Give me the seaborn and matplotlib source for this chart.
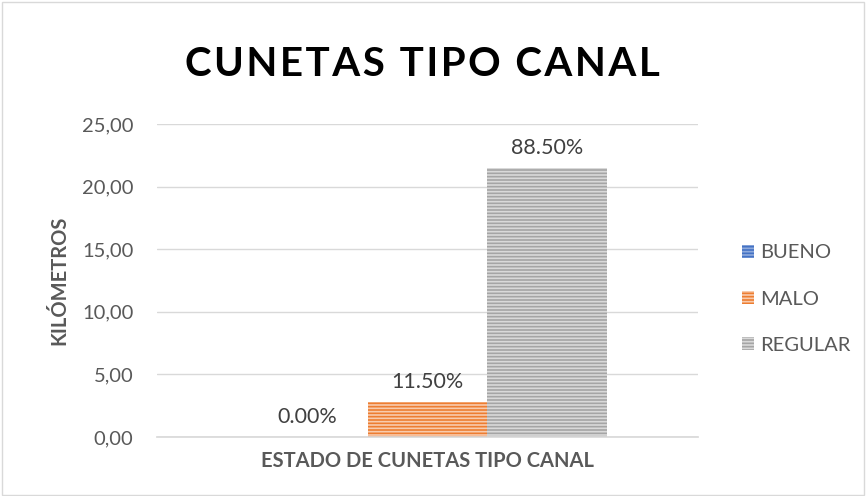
import seaborn as sns
import pandas as pd
import matplotlib.pyplot as plt
from matplotlib.patches import Patch

# data
estados = ["BUENO", "MALO", "REGULAR"]
kilometros = [0.0, 2.79, 21.49]
porcentajes = ["0.00%", "11.50%", "88.50%"]
categoria = "ESTADO DE CUNETAS TIPO CANAL"
titulo = "CUNETAS TIPO CANAL"

colores = ["#4472C4", "#ED7D31", "#A5A5A5"]
rayas = ["#8FAADC", "#F8CBAD", "#D9D9D9"]

sns.set_theme(style="white")
plt.rcParams["font.family"] = ["Lato", "DejaVu Sans"]
plt.rcParams["hatch.linewidth"] = 1.2

df = pd.DataFrame({"cat": [categoria] * 3, "estado": estados, "km": kilometros})

fig = plt.figure(figsize=(8.66, 4.96), dpi=100)
ax = fig.add_axes([0.1813, 0.119, 0.6247, 0.631])

sns.barplot(data=df, x="cat", y="km", hue="estado", hue_order=estados,
            palette=colores, width=0.8, ax=ax, legend=False, saturation=1)

for cont, col, raya, txt in zip(ax.containers, colores, rayas, porcentajes):
    for p in cont:
        p.set_hatch("-----")
        p.set_edgecolor(raya)
        p.set_linewidth(0)
    ax.bar_label(cont, labels=[txt], padding=7, fontsize=15.5, color="#404040")

ax.set_xlim(-0.6015, 0.6015)
ax.set_ylim(0, 25)
ax.set_yticks(range(0, 26, 5))
ax.set_yticklabels([f"{v:.2f}".replace(".", ",") for v in range(0, 26, 5)],
                   fontsize=14.5, color="#595959")
ax.set_xticks([])
ax.yaxis.grid(True, color="#D9D9D9", linewidth=1)
ax.set_axisbelow(True)
ax.tick_params(axis="y", length=0, pad=17)
for s in ["top", "right", "left"]:
    ax.spines[s].set_visible(False)
ax.spines["bottom"].set_color("#D9D9D9")

ax.set_xlabel(categoria, fontsize=14.5, fontweight="bold", color="#595959", labelpad=10)
ax.set_ylabel("KILÓMETROS", fontsize=14.5, fontweight="bold", color="#595959", labelpad=9)

# letter-spaced title, like the original
fig.text(0.488, 0.87, "\u200a".join(titulo),
         ha="center", va="center", fontsize=29, fontweight="bold", color="black")

handles = [Patch(facecolor=c, edgecolor=r, hatch="-----", linewidth=0) for c, r in zip(colores, rayas)]
ax.legend(handles, estados, loc="center left", bbox_to_anchor=(0.836, 0.397),
          bbox_transform=fig.transFigure, frameon=False, fontsize=14.5,
          handlelength=0.6, handleheight=0.6, handletextpad=0.3, labelspacing=1.45,
          labelcolor="#595959")

fig.patches.append(plt.Rectangle((0.002, 0.002), 0.996, 0.994, transform=fig.transFigure,
                                 fill=False, edgecolor="#D9D9D9", linewidth=1))

fig.savefig("out.png", dpi=100, facecolor="white")
